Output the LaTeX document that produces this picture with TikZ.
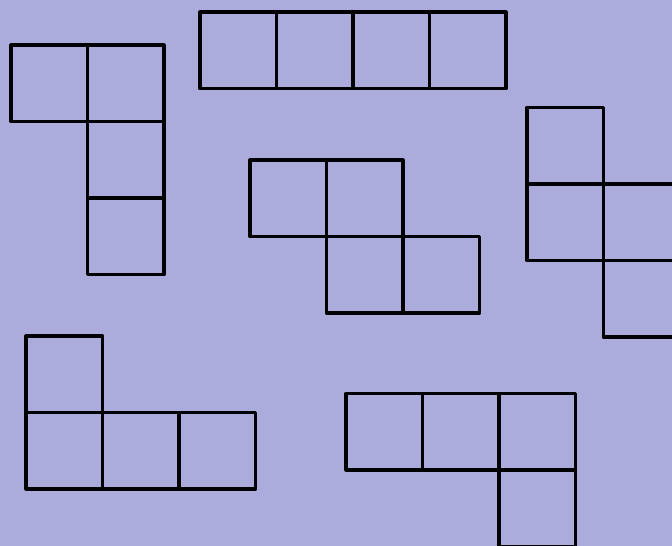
\documentclass[tikz,border=0pt]{standalone}
\definecolor{bg}{RGB}{171,172,219}
\begin{document}
\begin{tikzpicture}[x=1pt,y=-1pt,
  cell/.style={draw=black,line width=3.2pt,line join=round}]
\fill[bg] (0,0) rectangle (672,546);
\useasboundingbox (0,0) rectangle (672,546);
\clip (0,0) rectangle (672,546);
\def\s{76.5}
% J piece top-left
\foreach \x/\y in {11/45,87.5/45,87.5/121.5,87.5/198}
  \draw[cell] (\x,\y) rectangle ++(\s,\s);
% I piece top
\foreach \x/\y in {200/12,276.5/12,353/12,429.5/12}
  \draw[cell] (\x,\y) rectangle ++(\s,\s);
% Z piece middle
\foreach \x/\y in {250/160,326.5/160,326.5/236.5,403/236.5}
  \draw[cell] (\x,\y) rectangle ++(\s,\s);
% S piece right
\foreach \x/\y in {527/107.5,527/184,603.5/184,603.5/260.5}
  \draw[cell] (\x,\y) rectangle ++(\s,\s);
% L piece bottom-left
\foreach \x/\y in {26/336,26/412.5,102.5/412.5,179/412.5}
  \draw[cell] (\x,\y) rectangle ++(\s,\s);
% J piece bottom-right
\foreach \x/\y in {346/393.5,422.5/393.5,499/393.5,499/470}
  \draw[cell] (\x,\y) rectangle ++(\s,\s);
\end{tikzpicture}
\end{document}
